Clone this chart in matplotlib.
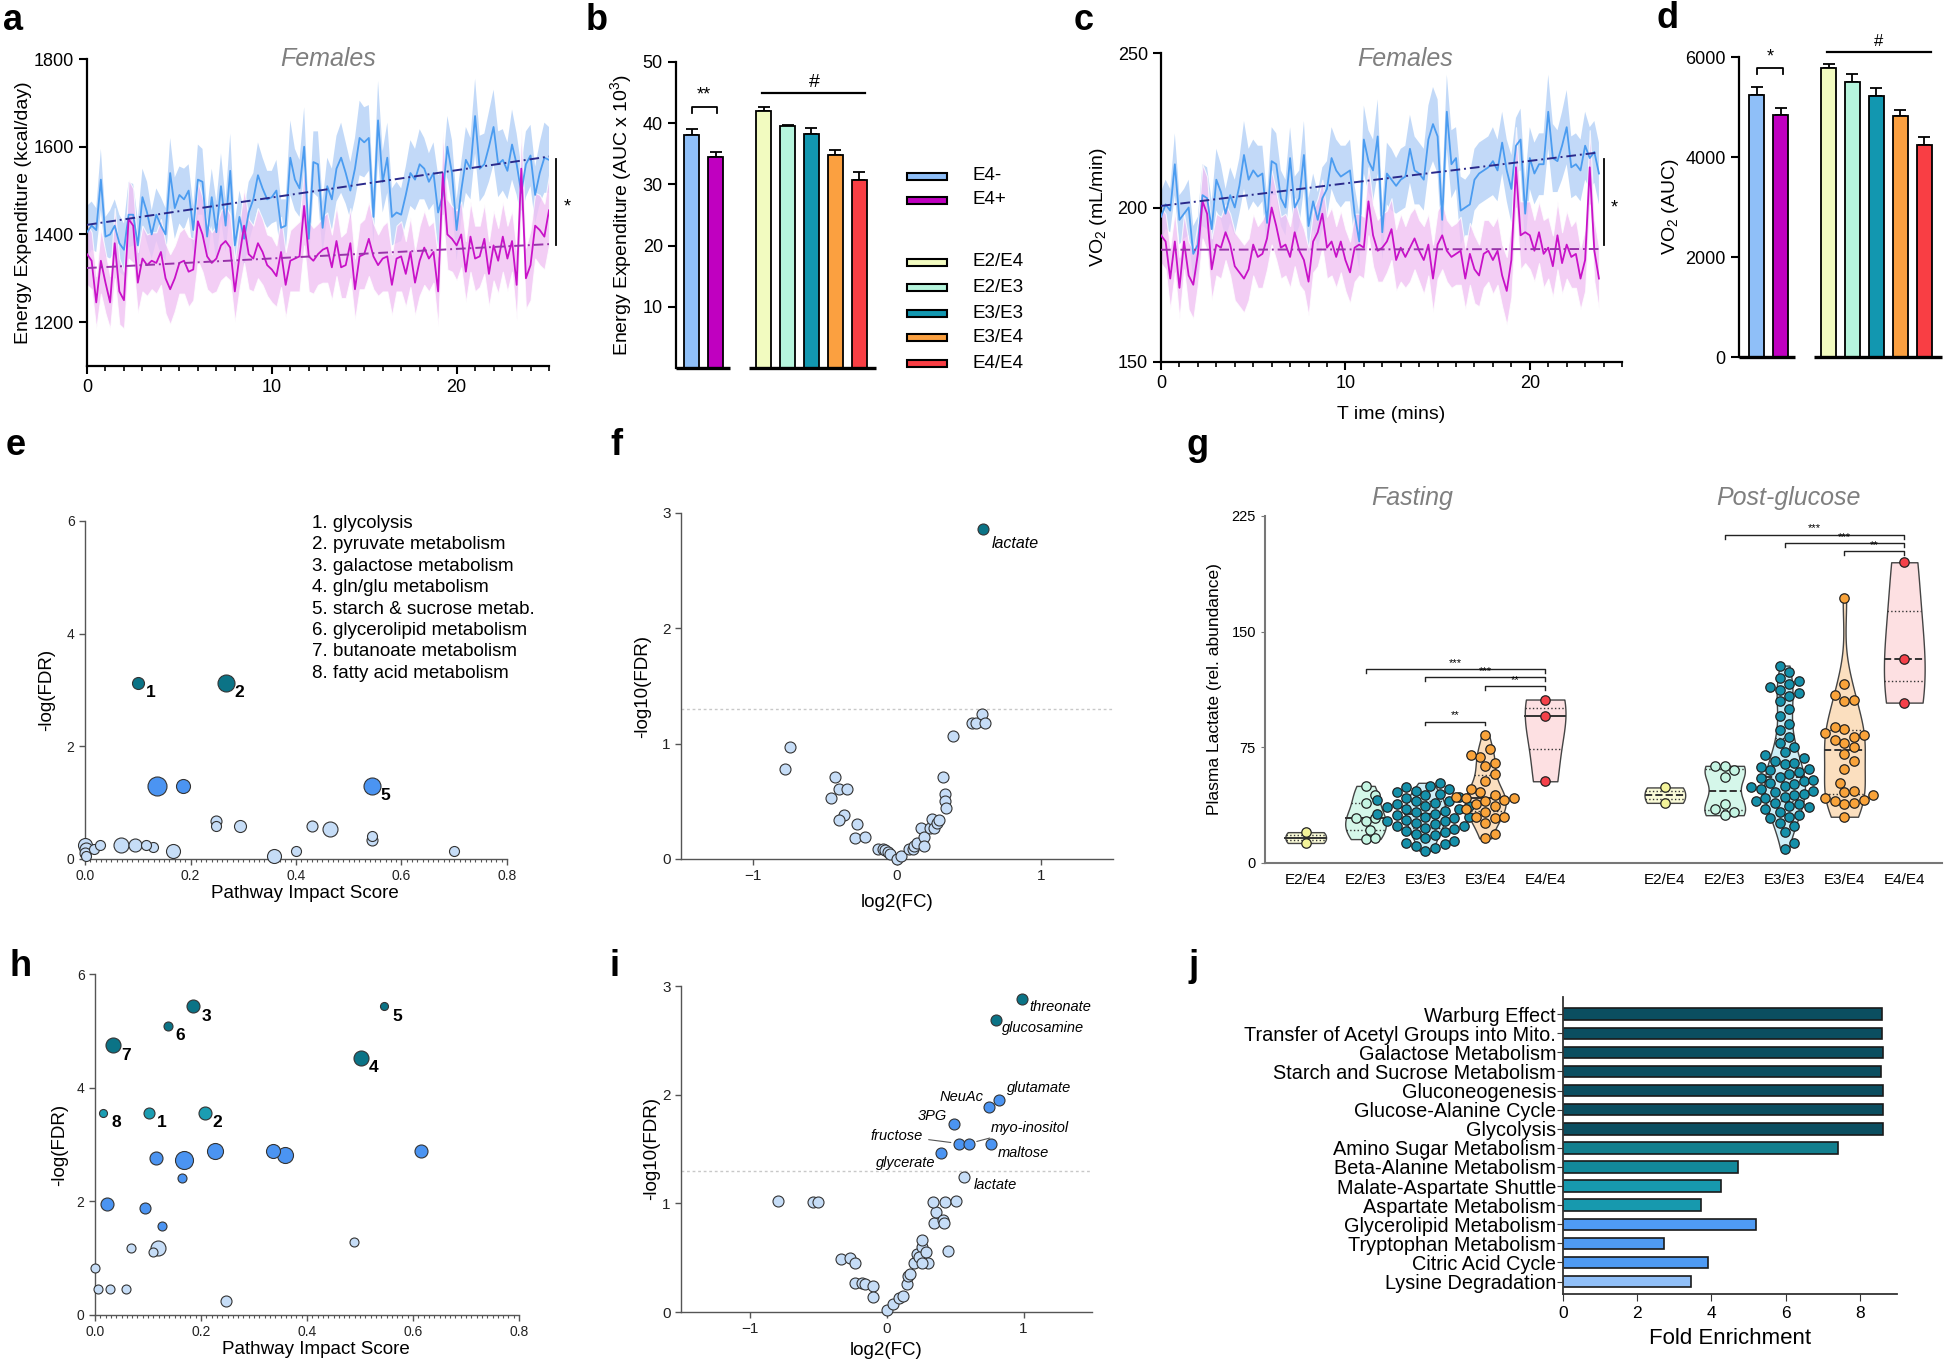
import numpy as np
import matplotlib
matplotlib.use("Agg")
import matplotlib.pyplot as plt
from matplotlib.patches import Rectangle
from matplotlib.ticker import MultipleLocator

plt.rcParams["font.family"] = ["Liberation Sans", "DejaVu Sans"]
plt.rcParams["mathtext.fontset"] = "custom"
plt.rcParams["mathtext.rm"] = "Liberation Sans"
plt.rcParams["mathtext.it"] = "Liberation Sans:italic"
plt.rcParams["mathtext.bf"] = "Liberation Sans:bold"

W, H = 1946, 1363
NARROW = ["Liberation Sans Narrow", "Liberation Sans", "DejaVu Sans"]

# =========================
# Data
# =========================

GENOTYPES = ["E2/E4", "E2/E3", "E3/E3", "E3/E4", "E4/E4"]
CARRIERS = ["E4-", "E4+"]

# panel a: energy expenditure time course (kcal/day), one point every 0.25
EE_NEG = [
    1405, 1420, 1410, 1525, 1395, 1400, 1420, 1380, 1365, 1445,
    1445, 1375, 1485, 1450, 1400, 1445, 1420, 1400, 1540, 1460,
    1490, 1480, 1500, 1410, 1525, 1520, 1395, 1485, 1405, 1510,
    1420, 1545, 1375, 1440, 1390, 1450, 1480, 1535, 1505, 1480,
    1485, 1500, 1415, 1420, 1575, 1525, 1505, 1600, 1390, 1565,
    1560, 1415, 1510, 1480, 1550, 1575, 1540, 1500, 1550, 1620,
    1610, 1620, 1440, 1660, 1520, 1575, 1440, 1450, 1445, 1490,
    1540, 1525, 1560, 1550, 1520, 1540, 1450, 1490, 1600, 1540,
    1410, 1500, 1570, 1550, 1670, 1550, 1560, 1600, 1645, 1560,
    1570, 1545, 1605, 1560, 1495, 1560, 1580, 1490, 1540, 1575,
    1570,
]
EE_NEG_SEM = [
    60, 55, 50, 70, 45, 55, 60, 65, 60, 75,
    70, 60, 65, 70, 55, 60, 65, 60, 80, 70,
    65, 70, 60, 55, 80, 75, 60, 65, 70, 75,
    60, 85, 55, 60, 65, 70, 60, 75, 70, 65,
    60, 70, 65, 60, 85, 70, 65, 90, 55, 70,
    75, 60, 65, 70, 75, 80, 70, 65, 70, 85,
    80, 75, 60, 90, 70, 80, 65, 70, 60, 65,
    75, 70, 80, 70, 65, 70, 85, 55, 70, 75,
    70, 65, 75, 70, 85, 75, 70, 80, 85, 75,
    70, 65, 80, 70, 60, 75, 70, 65, 70, 80,
    75,
]
EE_POS = [
    1355, 1340, 1245, 1340, 1290, 1245, 1380, 1270, 1250, 1435,
    1420, 1290, 1345, 1330, 1340, 1335, 1360, 1300, 1275, 1300,
    1335, 1340, 1315, 1320, 1430, 1400, 1350, 1335, 1345, 1375,
    1385, 1370, 1270, 1350, 1420, 1355, 1345, 1380, 1360, 1330,
    1320, 1305, 1360, 1285, 1340, 1345, 1350, 1465, 1350, 1340,
    1355, 1365, 1370, 1325, 1385, 1325, 1330, 1380, 1275, 1350,
    1355, 1390, 1350, 1330, 1345, 1350, 1285, 1345, 1350, 1310,
    1360, 1290, 1340, 1370, 1345, 1360, 1270, 1540, 1400, 1390,
    1375, 1400, 1315, 1395, 1345, 1350, 1390, 1310, 1375, 1340,
    1395, 1345, 1385, 1285, 1550, 1300, 1330, 1420, 1410, 1395,
    1455,
]
EE_POS_SEM = [
    70, 65, 60, 75, 70, 60, 80, 75, 65, 90,
    85, 70, 75, 70, 65, 70, 75, 80, 80, 75,
    70, 75, 80, 70, 90, 85, 75, 70, 75, 80,
    80, 75, 70, 75, 85, 80, 75, 80, 75, 70,
    75, 70, 80, 75, 70, 75, 80, 90, 80, 75,
    70, 75, 80, 75, 80, 70, 75, 80, 70, 75,
    80, 85, 75, 70, 75, 80, 70, 75, 80, 75,
    80, 75, 80, 85, 75, 70, 80, 95, 80, 75,
    80, 75, 70, 80, 75, 70, 80, 75, 80, 75,
    80, 75, 70, 80, 95, 70, 80, 75, 80, 75,
    80,
]

# panel c: VO2 time course (mL/min)
VO2_NEG = [
    197, 201, 199, 214, 196, 198, 200, 185, 188, 204,
    203, 193, 209, 205, 198, 204, 200, 207, 217, 209,
    212, 210, 211, 195, 215, 214, 203, 200, 216, 200,
    203, 217, 194, 202, 196, 203, 206, 216, 212, 210,
    211, 212, 198, 189, 222, 215, 212, 223, 192, 211,
    209, 207, 209, 210, 219, 212, 211, 209, 222, 227,
    223, 196, 231, 214, 216, 199, 200, 201, 209, 211,
    212, 213, 215, 212, 221, 212, 206, 220, 222, 198,
    216, 211, 214, 214, 231, 216, 215, 220, 226, 213,
    214, 212, 220, 216, 218, 211,
]
VO2_NEG_SEM = [
    8, 8, 7, 10, 8, 8, 9, 9, 9, 10,
    10, 9, 10, 9, 8, 9, 9, 9, 11, 10,
    10, 10, 9, 9, 11, 10, 9, 9, 10, 10,
    9, 11, 9, 9, 9, 10, 9, 10, 10, 10,
    9, 10, 9, 9, 11, 10, 10, 12, 9, 10,
    10, 9, 10, 10, 11, 11, 10, 10, 11, 12,
    12, 10, 12, 11, 10, 11, 9, 10, 10, 10,
    10, 10, 11, 10, 10, 10, 11, 9, 10, 11,
    10, 10, 10, 10, 12, 11, 10, 11, 12, 10,
    10, 10, 11, 10, 10, 10,
]
VO2_POS = [
    191, 189, 177, 189, 174, 189, 178, 175, 185, 202,
    198, 180, 188, 187, 192, 188, 181, 179, 177, 180,
    188, 184, 185, 190, 200, 194, 187, 188, 184, 192,
    186, 183, 176, 189, 192, 198, 187, 189, 184, 189,
    183, 179, 187, 188, 187, 202, 191, 186, 187, 189,
    193, 183, 187, 184, 187, 190, 186, 183, 188, 177,
    188, 191, 186, 184, 185, 186, 177, 185, 180, 178,
    185, 186, 183, 186, 178, 173, 183, 213, 191, 192,
    191, 186, 192, 185, 187, 181, 191, 182, 188, 184,
    185, 177, 183, 213, 186, 177,
]
VO2_POS_SEM = [
    9, 9, 10, 10, 10, 9, 11, 11, 10, 12,
    12, 10, 10, 10, 9, 10, 11, 11, 11, 10,
    10, 10, 11, 10, 12, 11, 10, 10, 10, 11,
    11, 10, 11, 10, 11, 11, 10, 11, 10, 10,
    10, 10, 11, 10, 10, 11, 10, 10, 11, 10,
    10, 10, 11, 10, 11, 10, 10, 11, 10, 11,
    11, 11, 10, 10, 10, 11, 10, 10, 11, 10,
    11, 10, 11, 11, 10, 11, 12, 13, 11, 10,
    11, 10, 10, 11, 10, 10, 11, 10, 11, 10,
    11, 10, 10, 12, 10, 10,
]

# panels b, d: AUC bars (E4-, E4+, then genotypes)
B_MEAN = [38.0, 34.5, 42.0, 39.5, 38.2, 34.8, 30.8]
B_SEM = [1.1, 0.8, 0.6, 0.2, 1.0, 0.8, 1.2]
D_MEAN = [5250, 4850, 5790, 5510, 5230, 4830, 4250]
D_SEM = [160, 130, 75, 155, 155, 120, 155]

# panel e: pathway impact (fasting)
E_X = [0.100, 0.268, 0.137, 0.185, 0.545, 0.249, 0.249, 0.293, 0.431, 0.464,
       0.545, 0.545, 0.000, 0.002, 0.000, 0.001, 0.017, 0.029, 0.068, 0.095,
       0.116, 0.128, 0.166, 0.358, 0.400, 0.700]
E_Y = [3.13, 3.13, 1.30, 1.30, 1.30, 0.67, 0.59, 0.59, 0.59, 0.53,
       0.40, 0.33, 0.25, 0.18, 0.11, 0.05, 0.17, 0.25, 0.25, 0.25,
       0.25, 0.21, 0.15, 0.05, 0.15, 0.15]
E_DIAM = [12, 17, 19, 14, 17, 11, 10, 12, 11, 15,
          10, 11, 14, 13, 11, 10, 10, 10, 15, 13,
          10, 10, 14, 14, 10, 10]
E_GROUP = ["dark", "dark", "blue", "blue", "blue"] + ["light"] * 21
E_TAG = ["1", "2", "", "", "5"] + [""] * 21
E_PATHWAYS = [
    "1. glycolysis", "2. pyruvate metabolism", "3. galactose metabolism",
    "4. gln/glu metabolism", "5. starch & sucrose metab.",
    "6. glycerolipid metabolism", "7. butanoate metabolism",
    "8. fatty acid metabolism",
]

# panel f: volcano (fasting)
F_X = [-0.78, -0.74, -0.43, -0.46, -0.40, -0.35, -0.37, -0.40, -0.28, -0.29,
       -0.22, -0.13, -0.10, -0.08, -0.06, -0.05, 0.00, 0.03, 0.08, 0.11,
       0.12, 0.14, 0.17, 0.19, 0.19, 0.23, 0.24, 0.26, 0.28, 0.29,
       0.32, 0.33, 0.33, 0.34, 0.39, 0.52, 0.55, 0.59, 0.61, 0.60]
F_Y = [0.78, 0.97, 0.71, 0.53, 0.61, 0.61, 0.38, 0.34, 0.30, 0.18,
       0.19, 0.09, 0.09, 0.08, 0.06, 0.04, 0.00, 0.03, 0.09, 0.09,
       0.11, 0.14, 0.27, 0.19, 0.11, 0.27, 0.35, 0.27, 0.31, 0.34,
       0.71, 0.56, 0.50, 0.44, 1.07, 1.18, 1.18, 1.26, 1.18, 2.86]
F_GROUP = ["light"] * 39 + ["dark"]
F_NAME = [""] * 39 + ["lactate"]

# panel g: plasma lactate by genotype
FAST_E2E4 = [13, 20]
FAST_E2E3 = [15.5, 16, 21.5, 27, 29, 29, 39, 44, 50]
FAST_E3E3 = [8, 10, 11, 12, 13, 14, 16, 18, 19, 20, 21, 22, 23, 24, 24, 25,
             26, 27, 27, 28, 29, 30, 30, 31, 32, 32, 33, 34, 35, 35, 36, 37,
             37, 38, 39, 40, 40, 41, 42, 43, 44, 45, 46, 47, 48, 49, 50, 52]
FAST_E3E4 = [16, 19, 26, 29, 30, 30, 33, 35, 37, 38, 40, 41, 42, 42, 43, 44,
             46, 48, 53, 58, 63, 65, 69, 70, 74, 83]
FAST_E4E4 = [53, 95, 106]
POST_E2E4 = [39, 49]
POST_E2E3 = [31, 33, 35, 38, 56, 60, 63, 63]
POST_E3E3 = [9, 13, 20, 24, 26, 29, 30, 31, 33, 35, 36, 37, 38, 39, 40, 42,
             43, 44, 45, 46, 47, 48, 49, 50, 51, 52, 53, 54, 55, 56, 58, 59,
             60, 61, 62, 64, 65, 66, 68, 70, 72, 75, 78, 82, 86, 90, 95, 100,
             105, 108, 110, 112, 114, 116, 118, 120, 124, 128]
POST_E3E4 = [30, 38, 39, 40, 41, 42, 44, 46, 47, 52, 61, 66, 71, 75, 78, 80,
             82, 83, 84, 87, 88, 105, 106, 109, 116, 172]
POST_E4E4 = [104, 132, 195]

# panel h: pathway impact (post-glucose)
H_X = [0.185, 0.545, 0.137, 0.034, 0.502, 0.015, 0.101, 0.207, 0.116, 0.168,
       0.165, 0.226, 0.335, 0.358, 0.616, 0.022, 0.094, 0.127, 0.118, 0.110,
       0.068, 0.000, 0.005, 0.029, 0.058, 0.248, 0.488]
H_Y = [5.43, 5.43, 5.09, 4.75, 4.53, 3.56, 3.56, 3.56, 2.76, 2.72,
       2.41, 2.88, 2.88, 2.81, 2.88, 1.95, 1.89, 1.56, 1.18, 1.11,
       1.18, 0.82, 0.46, 0.46, 0.46, 0.24, 1.28]
H_DIAM = [13, 8, 9, 15, 15, 8, 11, 13, 13, 18,
          9, 16, 14, 16, 13, 13, 11, 9, 15, 9,
          9, 9, 9, 9, 9, 11, 9]
H_GROUP = ["dark"] * 5 + ["teal"] * 3 + ["blue"] * 10 + ["light"] * 9
H_TAG = ["3", "5", "6", "7", "4", "8", "1", "2"] + [""] * 19

# panel i: volcano (post-glucose)
I_X = [-0.79, -0.54, -0.50, -0.33, -0.27, -0.23, -0.23, -0.18, -0.16, -0.10,
       -0.10, 0.00, 0.05, 0.09, 0.12, 0.15, 0.16, 0.17, 0.20, 0.22,
       0.26, 0.26, 0.24, 0.29, 0.30, 0.26, 0.35, 0.36, 0.34, 0.41,
       0.42, 0.43, 0.45, 0.51, 0.565,
       0.40, 0.53, 0.60, 0.76, 0.49, 0.75, 0.82,
       0.99, 0.80]
I_Y = [1.02, 1.01, 1.01, 0.49, 0.50, 0.45, 0.27, 0.27, 0.26, 0.24,
       0.14, 0.02, 0.07, 0.13, 0.15, 0.26, 0.33, 0.35, 0.45, 0.53,
       0.60, 0.66, 0.51, 0.55, 0.45, 0.45, 0.82, 0.92, 1.01, 0.85,
       0.82, 1.01, 0.56, 1.02, 1.24,
       1.46, 1.55, 1.55, 1.55, 1.73, 1.89, 1.95,
       2.88, 2.69]
I_GROUP = ["light"] * 35 + ["blue"] * 7 + ["dark"] * 2
I_NAME = [""] * 34 + ["lactate", "glycerate", "fructose", "myo-inositol",
                      "maltose", "3PG", "NeuAc", "glutamate",
                      "threonate", "glucosamine"]

# panel j: enrichment
J_PATHWAYS = [
    "Warburg Effect", "Transfer of Acetyl Groups into Mito.",
    "Galactose Metabolism", "Starch and Sucrose Metabolism",
    "Gluconeogenesis", "Glucose-Alanine Cycle", "Glycolysis",
    "Amino Sugar Metabolism", "Beta-Alanine Metabolism",
    "Malate-Aspartate Shuttle", "Aspartate Metabolism",
    "Glycerolipid Metabolism", "Tryptophan Metabolism",
    "Citric Acid Cycle", "Lysine Degradation",
]
J_FOLD = [8.60, 8.60, 8.62, 8.56, 8.62, 8.62, 8.62, 7.41, 4.72, 4.27,
          3.73, 5.20, 2.71, 3.90, 3.45]

# =========================
# Styles
# =========================

BAR_COLORS = ["#8fbff8", "#c000c0", "#f2fbc0", "#b6f5dd", "#1297b0", "#fba040", "#f93e44"]
PT_COLORS = ["#f3f39a", "#c5f5e3", "#1590aa", "#f9a33a", "#f5414a"]
VIO_FILL = ["#fafbd8", "#d5f7ea", "#cdeef7", "#fbdfbf", "#fde0e2"]
GROUP_COLORS = {"dark": "#0b7386", "teal": "#1b9db2", "blue": "#4b94f2", "light": "#c6ddf7"}
J_COLORS = ["#0b4e60"] * 7 + ["#137f8e", "#12899b", "#1799ae", "#1799ae",
                              "#4f9bf4", "#4f9bf4", "#4f9bf4", "#90bff8"]
GRAY_TITLE = "#7f7f7f"

fig = plt.figure(figsize=(W / 100, H / 100), dpi=100)


def px_axes(x0, y0, x1, y1):
    return fig.add_axes([x0 / W, 1 - y1 / H, (x1 - x0) / W, (y1 - y0) / H])


def fig_text(x, y, s, **kw):
    fig.text(x / W, 1 - y / H, s, **kw)


def style_top(ax):
    for s in ["top", "right"]:
        ax.spines[s].set_visible(False)
    for s in ["left", "bottom"]:
        ax.spines[s].set_linewidth(1.6)
    ax.tick_params(direction="out", length=6, width=1.5, labelsize=13)
    ax.tick_params(which="minor", length=3.5, width=1.2)


def style_thin(ax, labelsize=10):
    for s in ["top", "right"]:
        ax.spines[s].set_visible(False)
    for s in ["left", "bottom"]:
        ax.spines[s].set_linewidth(1.0)
        ax.spines[s].set_color("#555555")
    ax.tick_params(direction="out", length=4, width=1.0, color="#555555",
                   labelsize=labelsize, labelcolor="#222222")


def time_panel(ax, neg, neg_sem, pos, pos_sem, ylim, yticks, ylabel):
    series = [
        (neg, neg_sem, "#4b9cf0", "#b8d3f7", "#2a2a8c", 0.85, "none"),
        (pos, pos_sem, "#c812c8", "#f0c2f3", "#9933aa", 0.8, "white"),
    ]
    for mean, sem, lc, bc, fc, alpha, ec in series:
        mean = np.asarray(mean, float)
        sem = np.asarray(sem, float)
        t = np.arange(len(mean)) * 0.25
        ax.fill_between(t, mean - sem, mean + sem, color=bc, alpha=alpha,
                        lw=0.8, edgecolor=ec, zorder=1)
    for mean, sem, lc, bc, fc, alpha, ec in series:
        mean = np.asarray(mean, float)
        t = np.arange(len(mean)) * 0.25
        ax.plot(t, mean, color=lc, lw=1.3, zorder=3)
        k, b0 = np.polyfit(t, mean, 1)
        ax.plot(t[[0, -1]], k * t[[0, -1]] + b0, color=fc, lw=1.4,
                ls=(0, (5, 2, 1, 2)), zorder=4)
    ax.set_xlim(0, 25)
    ax.set_ylim(*ylim)
    ax.set_xticks([0, 10, 20])
    ax.xaxis.set_minor_locator(MultipleLocator(1))
    ax.set_yticks(yticks)
    ax.set_ylabel(ylabel, fontsize=14)
    style_top(ax)


def bar_panel(ax, means, sems, ylim, yticks, ylabel):
    pos = [0, 1, 3, 4, 5, 6, 7]
    ax.bar(pos, means, width=0.62, color=BAR_COLORS, edgecolor="black", lw=1.3, zorder=2)
    ax.errorbar(pos, means, yerr=[np.zeros(len(means)), sems], fmt="none",
                ecolor="black", elinewidth=1.3, capsize=4, capthick=1.3, zorder=1)
    style_top(ax)
    ax.spines["bottom"].set_visible(False)
    ax.set_xticks([])
    ax.set_ylim(*ylim)
    ax.set_yticks(yticks)
    ax.set_ylabel(ylabel, fontsize=14)


def bubble_panel(ax, xs, ys, diams, groups, tags):
    order = np.argsort(diams)[::-1]
    for i in order:
        ax.scatter(xs[i], ys[i], s=(diams[i] * 0.72) ** 2, color=GROUP_COLORS[groups[i]],
                   edgecolors="#333333", linewidths=0.8, zorder=3, clip_on=False)
    for x, y, tag in zip(xs, ys, tags):
        if tag:
            ax.annotate(tag, (x, y), xytext=(13, -10), textcoords="offset pixels",
                        ha="center", va="center", fontsize=12.5, fontweight="bold")
    ax.set_xlim(0, 0.8)
    ax.set_ylim(0, 6)
    ax.set_xticks([0.0, 0.2, 0.4, 0.6, 0.8])
    ax.set_xticklabels(["0.0", "0.2", "0.4", "0.6", "0.8"])
    ax.set_yticks([0, 2, 4, 6])
    ax.xaxis.set_minor_locator(MultipleLocator(0.01))
    style_thin(ax, 10)
    ax.tick_params(which="minor", length=2.5, width=0.8, color="#555555")
    ax.set_xlabel("Pathway Impact Score", fontsize=13.5)
    ax.set_ylabel("-log(FDR)", fontsize=13.5)


def volcano_panel(ax, xs, ys, groups):
    for x, y, g in zip(xs, ys, groups):
        ax.scatter(x, y, s=(11 * 0.72) ** 2, color=GROUP_COLORS[g],
                   edgecolors="#333333", linewidths=0.8, zorder=3, clip_on=False)
    ax.axhline(-np.log10(0.05), color="#c8c8c8", lw=1, ls=(0, (2, 2)), zorder=1)
    ax.set_xlim(-1.5, 1.5)
    ax.set_ylim(0, 3)
    ax.set_xticks([-1, 0, 1])
    ax.set_yticks([0, 1, 2, 3])
    style_thin(ax, 11)
    ax.set_xlabel("log2(FC)", fontsize=13.5)
    ax.set_ylabel("-log10(FDR)", fontsize=13.5)


# =========================
# a / c: time courses
# =========================

ax_a = px_axes(87, 59, 549, 366)
time_panel(ax_a, EE_NEG, EE_NEG_SEM, EE_POS, EE_POS_SEM, (1100, 1800),
           [1200, 1400, 1600, 1800], "Energy Expenditure (kcal/day)")
ax_a.yaxis.set_label_coords(-0.119, 0.5)
ax_a.plot([25.4, 25.4], [1376, 1572], color="black", lw=1.3, clip_on=False)
ax_a.text(26.0, 1462, "*", fontsize=13, ha="center", va="center")
fig_text(328, 59, "Females", fontsize=18, style="italic", color=GRAY_TITLE,
         ha="center", va="center")

ax_c = px_axes(1161, 53, 1622, 362)
time_panel(ax_c, VO2_NEG, VO2_NEG_SEM, VO2_POS, VO2_POS_SEM, (150, 250),
           [150, 200, 250], "VO$_2$ (mL/min)")
ax_c.yaxis.set_label_coords(-0.112, 0.5)
ax_c.set_xlabel("T ime (mins)", fontsize=14)
ax_c.xaxis.set_label_coords(0.5, -0.141)
ax_c.plot([24.05, 24.05], [188, 215.7], color="black", lw=1.3, clip_on=False)
ax_c.text(24.6, 200, "*", fontsize=13, ha="center", va="center")
fig_text(1405, 59, "Females", fontsize=18, style="italic", color=GRAY_TITLE,
         ha="center", va="center")

# =========================
# b / d: AUC bars
# =========================

ax_b = px_axes(676, 62, 876, 368)
bar_panel(ax_b, B_MEAN, B_SEM, (0, 50), [10, 20, 30, 40, 50],
          "Energy Expenditure (AUC x 10$^3$)")
ax_b.set_xlim(-0.65, 7.69)
ax_b.yaxis.set_label_coords(-0.21, 0.5)
for x0, x1 in [(-0.65, 1.6), (2.4, 7.69)]:
    ax_b.plot([x0, x1], [0, 0], color="black", lw=2.4, clip_on=False, solid_capstyle="butt")
ax_b.plot([0, 0, 1.05, 1.05], [41.7, 42.7, 42.7, 41.7], color="black", lw=1.3)
ax_b.text(0.52, 43.3, "**", fontsize=13, ha="center", va="bottom")
ax_b.plot([2.94, 7.23], [44.9, 44.9], color="black", lw=1.6)
ax_b.text(5.1, 45.3, "#", fontsize=14, ha="center", va="bottom")

lax = px_axes(900, 150, 1060, 380)
lax.set_xlim(900, 1060)
lax.set_ylim(380, 150)
lax.axis("off")
legend_rows = list(zip(CARRIERS + GENOTYPES, BAR_COLORS, [176, 200, 262, 287, 313, 338, 364]))
for label, color, y in legend_rows:
    lax.add_patch(Rectangle((907, y - 3.5), 40, 7, facecolor=color, edgecolor="black", lw=1.5))
    lax.text(972, y, label, fontsize=13.5, va="center", ha="left")

ax_d = px_axes(1739, 57, 1942, 357)
bar_panel(ax_d, D_MEAN, D_SEM, (0, 6000), [0, 2000, 4000, 6000], "VO$_2$ (AUC)")
ax_d.set_xlim(-0.73, 7.73)
ax_d.yaxis.set_label_coords(-0.285, 0.5)
for x0, x1 in [(-0.73, 1.6), (2.4, 7.73)]:
    ax_d.plot([x0, x1], [0, 0], color="black", lw=2.4, clip_on=False, solid_capstyle="butt")
ax_d.plot([0.02, 0.02, 1.1, 1.1], [5660, 5780, 5780, 5660], color="black", lw=1.3)
ax_d.text(0.56, 5840, "*", fontsize=13, ha="center", va="bottom")
ax_d.plot([2.94, 7.27], [6100, 6100], color="black", lw=1.6, clip_on=False)
ax_d.text(5.1, 6150, "#", fontsize=12, ha="center", va="bottom")

# =========================
# e / h: pathway impact
# =========================

ax_e = px_axes(85, 521, 507, 859)
bubble_panel(ax_e, E_X, E_Y, E_DIAM, E_GROUP, E_TAG)
ax_e.yaxis.set_label_coords(-0.071, 0.5)
ax_e.xaxis.set_label_coords(0.52, -0.076)
for i, line in enumerate(E_PATHWAYS):
    fig_text(312, 523 + i * 21.5, line, fontsize=13.5, va="center", ha="left")

ax_h = px_axes(95, 974, 519, 1315)
bubble_panel(ax_h, H_X, H_Y, H_DIAM, H_GROUP, H_TAG)
ax_h.yaxis.set_label_coords(-0.064, 0.5)
ax_h.xaxis.set_label_coords(0.52, -0.076)

# =========================
# f / i: volcano plots
# =========================

ax_f = px_axes(681, 513, 1113, 859)
volcano_panel(ax_f, F_X, F_Y, F_GROUP)
ax_f.yaxis.set_label_coords(-0.069, 0.5)
ax_f.xaxis.set_label_coords(0.5, -0.101)
for x, y, name in zip(F_X, F_Y, F_NAME):
    if name:
        ax_f.annotate(name, (x, y), xytext=(8, -14), textcoords="offset pixels",
                      fontsize=11.5, style="italic", ha="left", va="center")

ax_i = px_axes(681, 986, 1092, 1312)
volcano_panel(ax_i, I_X, I_Y, I_GROUP)
ax_i.yaxis.set_label_coords(-0.051, 0.5)
ax_i.xaxis.set_label_coords(0.5, -0.092)
I_LABEL_OFFSET = {
    "threonate": (7, -8, "left"), "glucosamine": (6, -8, "left"),
    "glutamate": (8, 12, "left"), "NeuAc": (-6, 10, "right"),
    "3PG": (-7, 8, "right"), "myo-inositol": (22, 16, "left"),
    "fructose": (-36, 8, "right"), "maltose": (7, -9, "left"),
    "glycerate": (-6, -10, "right"), "lactate": (10, -8, "left"),
}
for x, y, name in zip(I_X, I_Y, I_NAME):
    if not name:
        continue
    dx, dy, ha = I_LABEL_OFFSET[name]
    arrow = None
    if name in ("myo-inositol", "fructose"):
        arrow = dict(arrowstyle="-", color="#555555", lw=0.8, shrinkA=2, shrinkB=6)
    ax_i.annotate(name, (x, y), xytext=(dx, dy), textcoords="offset pixels",
                  fontsize=10.5, style="italic", ha=ha, va="center", arrowprops=arrow)

# =========================
# g: violins
# =========================

ax_g = px_axes(1265, 516, 1942, 863)
XLIM_G = (-0.68, 10.63)
YLIM_G = (0, 225)
xpx = (1942 - 1265) / (XLIM_G[1] - XLIM_G[0])
ypx = (863 - 516) / (YLIM_G[1] - YLIM_G[0])


def swarm_offsets(vals, diam=9.6):
    vals = np.asarray(vals, float)
    order = np.argsort(vals)
    cands = [0.0]
    for k in range(1, 40):
        cands += [k * diam * 0.5, -k * diam * 0.5]
    placed = []
    out = np.zeros(len(vals))
    for idx in order:
        y = vals[idx] * ypx
        for c in cands:
            if all((c - px) ** 2 + (y - py) ** 2 >= (diam * 0.97) ** 2 for px, py in placed):
                break
        placed.append((c, y))
        out[idx] = c / xpx
    return out


def violin_halfwidth(body, pos, y):
    v = body.get_paths()[0].vertices
    right = v[v[:, 0] > pos + 1e-9]
    order = np.argsort(right[:, 1])
    return np.interp(y, right[order, 1], right[order, 0]) - pos


def draw_violin(ax, vals, pos, k, median_ls):
    vp = ax.violinplot([vals], positions=[pos], widths=0.68, showextrema=False)
    body = vp["bodies"][0]
    body.set_facecolor(VIO_FILL[k])
    body.set_edgecolor("#444444")
    body.set_alpha(1)
    body.set_linewidth(1.0)
    q1, med, q3 = np.percentile(vals, [25, 50, 75])
    for yv, ls, lw in [(q1, ":", 1.0), (med, median_ls, 1.4), (q3, ":", 1.0)]:
        hw = violin_halfwidth(body, pos, yv)
        ax.plot([pos - hw, pos + hw], [yv, yv], color="#333333", ls=ls, lw=lw, zorder=2)
    offs = swarm_offsets(vals)
    ax.scatter(pos + offs, vals, s=46, color=PT_COLORS[k], edgecolors="#222222",
               linewidths=0.9, zorder=3)


fasting = [FAST_E2E4, FAST_E2E3, FAST_E3E3, FAST_E3E4, FAST_E4E4]
post = [POST_E2E4, POST_E2E3, POST_E3E3, POST_E3E4, POST_E4E4]
for k, vals in enumerate(fasting):
    draw_violin(ax_g, vals, k, k, "-")
for k, vals in enumerate(post):
    draw_violin(ax_g, vals, k + 6, k, "--")


def sig_bracket(ax, x0, x1, y, text, leg=2.5):
    ax.plot([x0, x0, x1, x1], [y - leg, y, y, y - leg], color="#222222", lw=1.0)
    ax.text((x0 + x1) / 2, y + 0.8, text, ha="center", va="bottom", fontsize=8)


for x0, x1, y, txt in [(1, 4, 125.5, "***"), (2, 4, 120.6, "***"), (3, 4, 114.8, "**"),
                       (2, 3, 91.7, "**"), (7, 10, 212.9, "***"), (8, 10, 207.5, "***"),
                       (9, 10, 202.0, "**")]:
    sig_bracket(ax_g, x0, x1, y, txt)

ax_g.set_xlim(*XLIM_G)
ax_g.set_ylim(*YLIM_G)
ax_g.set_yticks([0, 75, 150, 225])
ax_g.set_xticks([0, 1, 2, 3, 4, 6, 7, 8, 9, 10])
ax_g.set_xticklabels(GENOTYPES + GENOTYPES, family=NARROW)
for lab in ax_g.get_yticklabels():
    lab.set_family(NARROW)
for s in ["top", "right"]:
    ax_g.spines[s].set_visible(False)
for s in ["left", "bottom"]:
    ax_g.spines[s].set_color("#777777")
    ax_g.spines[s].set_linewidth(1.5)
ax_g.tick_params(axis="x", length=0, labelsize=11, pad=7)
ax_g.tick_params(axis="y", length=3, color="#777777", labelsize=10.5)
ax_g.set_ylabel("Plasma Lactate (rel. abundance)", fontsize=12.5)
ax_g.yaxis.set_label_coords(-0.063, 0.5)
fig_text(1412, 498, "Fasting", fontsize=18, style="italic", color=GRAY_TITLE,
         ha="center", va="center", family=NARROW)
fig_text(1788, 498, "Post-glucose", fontsize=18, style="italic", color=GRAY_TITLE,
         ha="center", va="center", family=NARROW)

# =========================
# j: enrichment bars
# =========================

ax_j = px_axes(1563, 997, 1897, 1294)
ax_j.barh(range(len(J_FOLD)), J_FOLD, height=0.6, color=J_COLORS,
          edgecolor="#1a1a1a", lw=1.2)
ax_j.set_ylim(14.65, -0.9)
ax_j.set_xlim(0, 9)
ax_j.set_yticks(range(len(J_PATHWAYS)))
ax_j.set_yticklabels(J_PATHWAYS, fontsize=14.3, family=NARROW)
ax_j.set_xticks([0, 2, 4, 6, 8])
for lab in ax_j.get_xticklabels():
    lab.set_family(NARROW)
for s in ["top", "right"]:
    ax_j.spines[s].set_visible(False)
for s in ["left", "bottom"]:
    ax_j.spines[s].set_color("#333333")
    ax_j.spines[s].set_linewidth(1.3)
ax_j.tick_params(axis="y", length=4, pad=1, color="#333333")
ax_j.tick_params(axis="x", length=5, labelsize=12.5, color="#333333")
ax_j.set_xlabel("Fold Enrichment", fontsize=16, family=NARROW)
ax_j.xaxis.set_label_coords(0.5, -0.114)

# panel letters
for letter, x, y in [("a", 3, 30), ("b", 586, 30), ("c", 1074, 30), ("d", 1657, 28),
                     ("e", 6, 455), ("f", 610, 455), ("g", 1186, 455),
                     ("h", 10, 976), ("i", 610, 976), ("j", 1188, 976)]:
    fig_text(x, y, letter, fontsize=26, fontweight="bold", va="baseline", ha="left")

fig.savefig("out.png", dpi=100)
